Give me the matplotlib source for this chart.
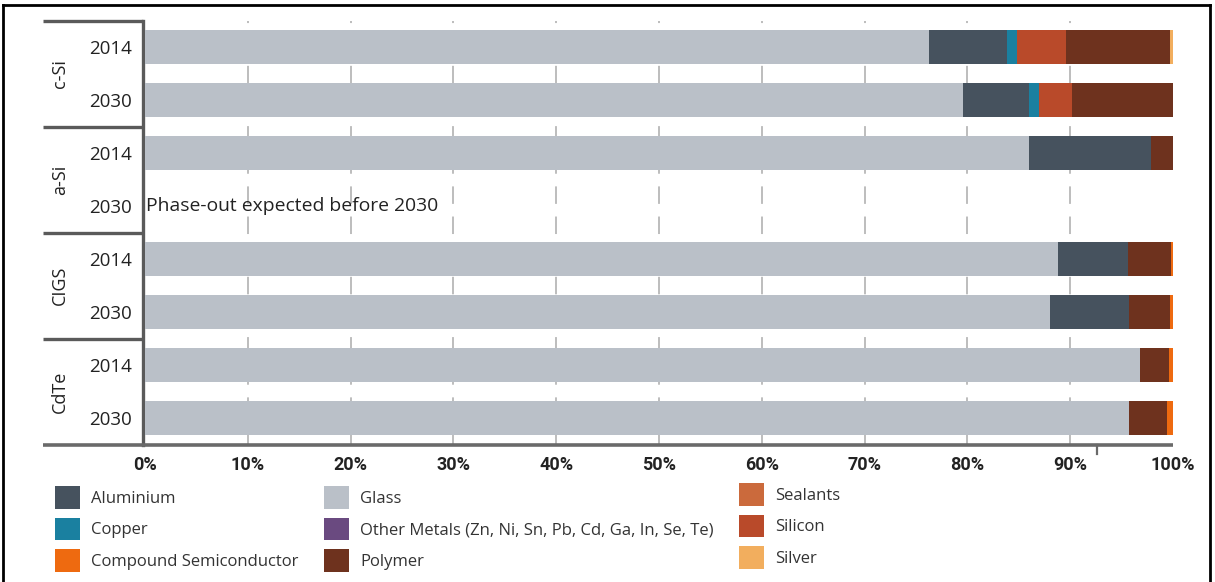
import matplotlib
matplotlib.use("Agg")
import matplotlib.pyplot as plt
import matplotlib.transforms as mtransforms
from matplotlib.patches import Patch
from matplotlib.lines import Line2D
import numpy as np

# ---------------- data ----------------
technologies = ["c-Si", "a-Si", "CIGS", "CdTe"]
row_labels = ["2014", "2030", "2014", "2030", "2014", "2030", "2014", "2030"]

legend_columns = [
    ["Aluminium", "Copper", "Compound Semiconductor"],
    ["Glass", "Other Metals (Zn, Ni, Sn, Pb, Cd, Ga, In, Se, Te)", "Polymer"],
    ["Sealants", "Silicon", "Silver"],
]
colors = {
    "Aluminium": "#46525e",
    "Copper": "#1a80a0",
    "Compound Semiconductor": "#ee6a10",
    "Glass": "#bac0c8",
    "Other Metals (Zn, Ni, Sn, Pb, Cd, Ga, In, Se, Te)": "#6a4a80",
    "Polymer": "#6e321e",
    "Sealants": "#cb6a3c",
    "Silicon": "#b94a2a",
    "Silver": "#f2ae5e",
}

# stacking order within each bar
stack_order = ["Glass", "Aluminium", "Copper", "Silicon", "Polymer",
               "Compound Semiconductor", "Silver"]

# percentage shares per row
# (c-Si 2014, c-Si 2030, a-Si 2014, a-Si 2030, CIGS 2014, CIGS 2030, CdTe 2014, CdTe 2030)
glass     = [76.3, 79.6, 86.0, 0.0, 88.8, 88.0, 96.8, 95.7]
aluminium = [7.6, 6.4, 11.9, 0.0, 6.8, 7.7, 0.0, 0.0]
copper    = [0.9, 1.0, 0.0, 0.0, 0.0, 0.0, 0.0, 0.0]
silicon   = [4.8, 3.2, 0.0, 0.0, 0.0, 0.0, 0.0, 0.0]
polymer   = [10.1, 9.8, 2.1, 0.0, 4.2, 4.0, 2.8, 3.7]
compound  = [0.0, 0.0, 0.0, 0.0, 0.2, 0.3, 0.4, 0.6]
silver    = [0.3, 0.0, 0.0, 0.0, 0.0, 0.0, 0.0, 0.0]

values = {"Glass": glass, "Aluminium": aluminium, "Copper": copper,
          "Silicon": silicon, "Polymer": polymer,
          "Compound Semiconductor": compound, "Silver": silver}

phase_out_note = "Phase-out expected before 2030"
xticks = [0, 10, 20, 30, 40, 50, 60, 70, 80, 90, 100]
xtick_labels = [f"{v}%" for v in xticks]

# ---------------- figure ----------------
W, H = 1215, 582
plt.rcParams["font.family"] = ["Open Sans", "DejaVu Sans"]
fig = plt.figure(figsize=(W / 100, H / 100), dpi=100)

ax_left, ax_right = 145 / W, 1173 / W
ax_top, ax_bot = 1 - 20.5 / H, 1 - 444.5 / H
ax = fig.add_axes([ax_left, ax_bot, ax_right - ax_left, ax_top - ax_bot])

ypos = np.arange(len(row_labels))
left = np.zeros(len(row_labels))
for m in stack_order:
    v = np.array(values[m])
    ax.barh(ypos, v, left=left, height=0.64, color=colors[m], edgecolor="none", zorder=3)
    left += v

ax.set_xlim(0, 100)
ax.set_ylim(len(row_labels) - 0.5, -0.5)

# dashed vertical grid
for xv in xticks[1:-1]:
    ax.axvline(xv, color="#bdbdbd", lw=1.4, ls=(0, (9, 6.5)), zorder=1)

for s in ["top", "right", "bottom"]:
    ax.spines[s].set_visible(False)
ax.spines["left"].set_color("#5a5a5a")
ax.spines["left"].set_linewidth(2.4)
ax.spines["left"].set_position(("data", -0.15))

bt = mtransforms.blended_transform_factory(ax.transAxes, ax.transData)
# bottom axis line extends left under the labels
ax.plot([-0.0992, 1.0], [len(row_labels) - 0.5] * 2, color="#6a6a6a", lw=2.6,
        transform=bt, clip_on=False, zorder=5, solid_capstyle="butt")
# small tick mark below the axis
ax.plot([92.6, 92.6], [7.5, 7.68], color="#6a6a6a", lw=1.6, clip_on=False, zorder=5)

# group separators
for yv in [-0.5, 1.5, 3.5, 5.5]:
    ax.plot([-0.0992, -0.0015], [yv, yv], color="#5a5a5a", lw=2.4, transform=bt,
            clip_on=False, zorder=5, solid_capstyle="butt")

ax.set_xticks(xticks)
ax.set_xticklabels(xtick_labels, fontsize=13, fontweight="bold", color="#222222",
                   family=["Roboto", "DejaVu Sans"])
ax.tick_params(axis="x", length=0, pad=8)
ax.set_yticks(ypos)
ax.set_yticklabels(row_labels, fontsize=13.5, color="#222222")
ax.tick_params(axis="y", length=0, pad=8)

for i, t in enumerate(technologies):
    ax.text(-0.0827, 2 * i + 0.5, t, transform=bt, rotation=90, ha="center", va="center",
            fontsize=13, color="#222222")

ax.text(0.1, 3, phase_out_note, ha="left", va="center", fontsize=13.9, color="#222222", zorder=6)

# legend: three columns at fixed positions
col_x = [55, 324, 739]
col_y = [486, 486, 483]
for names, cx, cy in zip(legend_columns, col_x, col_y):
    handles = [Patch(facecolor=colors[m], edgecolor="none") for m in names]
    fig.legend(handles, names, ncol=1, loc="upper left",
               bbox_to_anchor=(cx / W, 1 - cy / H), frameon=False,
               fontsize=12, handlelength=1.5, handleheight=1.72, handletextpad=0.66,
               labelspacing=0.54, borderpad=0, borderaxespad=0, labelcolor="#333333")

# outer border
for xs, ys in [([3, 3], [582, 5]), ([3, 1210], [5, 5]), ([1210, 1210], [5, 582])]:
    fig.add_artist(Line2D([x / W for x in xs], [1 - y / H for y in ys], color="black",
                          lw=2, transform=fig.transFigure))

fig.savefig("out.png", dpi=100)
